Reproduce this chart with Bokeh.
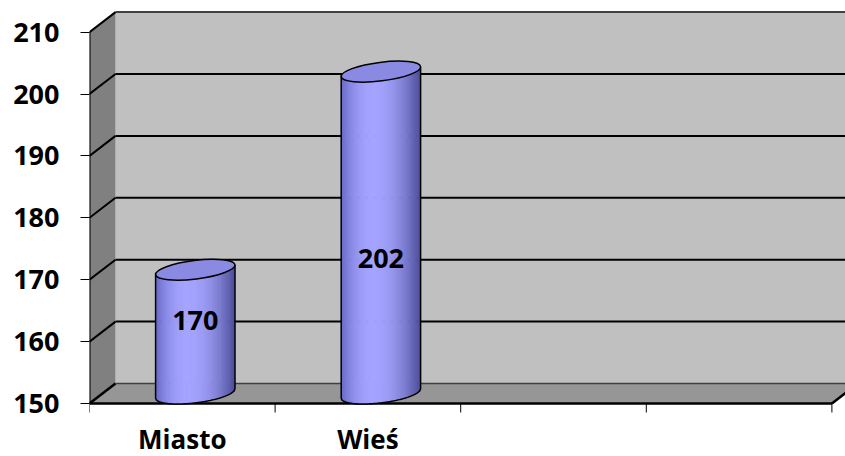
import math
import numpy as np
from bokeh.plotting import figure
from bokeh.models import Range1d, FixedTicker, LinearAxis
from bokeh.core.properties import value
from bokeh.embed import file_html
from bokeh.resources import INLINE

# ---- data -------------------------------------------------------------
categories = ["Miasto", "Wieś"]
counts = [170, 202]
slot_count = 4                      # category slots along the floor (two stay empty)
y_ticks = [150, 160, 170, 180, 190, 200, 210]
y_base, y_top = y_ticks[0], y_ticks[-1]

# ---- layout / projection constants ---------------------------------------
W, H = 845, 456
LEFT = 89                 # room for the value axis
FRAME_W = W - LEFT
PX_X = 185.6              # screen px per category slot
PX_Y = 6.19               # screen px per value unit
BASE_ROW = 403            # screen row of the base value
DEPTH_X, DEPTH_Y = 26, 20 # oblique depth offset of the back wall, px
DX, DY = DEPTH_X / PX_X, DEPTH_Y / PX_Y

FONT = value("Open Sans")

x_end = FRAME_W / PX_X
y_start = y_base - (H - BASE_ROW) / PX_Y
y_end = y_base + BASE_ROW / PX_Y

p = figure(width=W, height=H, x_range=Range1d(0, x_end), y_range=Range1d(y_start, y_end),
           output_backend="svg", toolbar_location=None,
           x_axis_location=None, y_axis_location=None,
           min_border_left=LEFT, min_border_right=0, min_border_top=0, min_border_bottom=0)
p.outline_line_color = None
p.background_fill_color = "white"
p.border_fill_color = "white"
p.xgrid.visible = False
p.ygrid.visible = False

# ---- value axis -------------------------------------------------------
yaxis = LinearAxis(ticker=FixedTicker(ticks=y_ticks))
yaxis.axis_line_color = None
yaxis.major_tick_out = 9
yaxis.major_tick_in = 0
yaxis.minor_tick_out = 0
yaxis.major_tick_line_color = "black"
yaxis.major_label_text_font = "Open Sans"
yaxis.major_label_text_font_style = "bold"
yaxis.major_label_text_font_size = "27px"
yaxis.major_label_text_color = "black"
yaxis.major_label_standoff = 21
p.add_layout(yaxis, "left")

far = x_end + 1

# ---- walls ------------------------------------------------------------
p.quad(left=DX, right=far, bottom=y_base + DY, top=y_top + DY,
       fill_color="#c0c0c0", line_color=None)
p.patch([0, 0, DX, DX], [y_base, y_top, y_top + DY, y_base + DY],
        fill_color="#808080", line_color=None)

grid_vals = [v for v in y_ticks if v != y_base]
# gridlines across the back wall and slanting over the side wall
p.segment(x0=[DX] * len(grid_vals), y0=[v + DY for v in grid_vals],
          x1=[far] * len(grid_vals), y1=[v + DY for v in grid_vals],
          line_color=["black"] * (len(grid_vals) - 1) + ["#404040"], line_width=2)
p.segment(x0=[0] * len(grid_vals), y0=grid_vals,
          x1=[DX] * len(grid_vals), y1=[v + DY for v in grid_vals],
          line_color="black", line_width=2)
p.segment(x0=[0], y0=[y_base], x1=[0], y1=[y_top], line_color="black", line_width=2)

# ---- floor ------------------------------------------------------------
p.patch([0, slot_count, slot_count + DX, DX], [y_base, y_base, y_base + DY, y_base + DY],
        fill_color="#969696", line_color=None)
p.segment(x0=[DX], y0=[y_base + DY], x1=[far], y1=[y_base + DY], line_color="#404040", line_width=1.5)
p.segment(x0=[0, 0, slot_count], y0=[y_base] * 3,
          x1=[slot_count, DX, slot_count + DX], y1=[y_base, y_base + DY, y_base + DY],
          line_color="black", line_width=2.5)

# category tick marks on the slot boundaries
bounds = list(range(slot_count + 1))
tick_len = 9 / PX_Y
p.segment(x0=bounds, y0=[y_base] * len(bounds), x1=bounds, y1=[y_base - tick_len] * len(bounds),
          line_color="black", line_width=1)

# ---- cylinders ----------------------------------------------------------
A_R, B_R, TILT = 40.0, 9.3, 0.125      # cap ellipse semi-axes (px) and tilt (rad)
co, si = math.cos(TILT), math.sin(TILT)
QA = si * si / A_R ** 2 + co * co / B_R ** 2
HALF_W = math.sqrt(A_R ** 2 * co ** 2 + B_R ** 2 * si ** 2)


def chord(X):
    """Vertical mid point and half height (px, y up) of the tilted ellipse at offset X."""
    qb = 2 * X * (co * si / A_R ** 2 - si * co / B_R ** 2)
    qc = X * X * (co * co / A_R ** 2 + si * si / B_R ** 2) - 1
    mid = -qb / (2 * QA)
    disc = max(qb * qb - 4 * QA * qc, 0.0)
    return mid, math.sqrt(disc) / (2 * QA)


def shade(t):
    """Body colour across the cylinder, t from -1 (left) to 1 (right)."""
    t0 = -0.2
    s = (t - t0) / (1 - t0) if t > t0 else (t - t0) / (1 + t0)
    f = 1 - s * s
    edge = (104, 104, 200) if s < 0 else (74, 74, 150)
    peak = (164, 164, 255)
    rgb = [round(e + f * (pk - e)) for e, pk in zip(edge, peak)]
    return "#%02x%02x%02x" % tuple(rgb)


N = 70
edges = np.linspace(-HALF_W, HALF_W, N + 1)
for i, v in enumerate(counts):
    cx = i + 0.5 + DX / 2
    yb = y_base + DY / 2
    yt = v + DY / 2
    lefts, rights, bots, tops, cols = [], [], [], [], []
    for k in range(N):
        xm = 0.5 * (edges[k] + edges[k + 1])
        mid, half = chord(xm)
        lefts.append(cx + edges[k] / PX_X)
        rights.append(cx + min(edges[k + 1] + 0.6, HALF_W) / PX_X)
        tops.append(yt + mid / PX_Y)
        bots.append(yb + (mid - half) / PX_Y)
        cols.append(shade(xm / HALF_W))
    p.quad(left=lefts, right=rights, bottom=bots, top=tops, fill_color=cols, line_color=None)

    xs_arc = np.linspace(-HALF_W, HALF_W, 90)
    ox, oy = [cx - HALF_W / PX_X], [yt + chord(-HALF_W)[0] / PX_Y]
    for X in xs_arc:
        mid, half = chord(X)
        ox.append(cx + X / PX_X)
        oy.append(yb + (mid - half) / PX_Y)
    ox.append(cx + HALF_W / PX_X)
    oy.append(yt + chord(HALF_W)[0] / PX_Y)
    p.line(ox, oy, line_color="black", line_width=1.5)

    p.ellipse(x=[cx], y=[yt], width=2 * A_R, height=2 * B_R,
              width_units="screen", height_units="screen", angle=TILT,
              fill_color="#8a8ae2", line_color="black", line_width=1.5)

# ---- value labels inside the columns ------------------------------------
label_x = [i + 0.5 + DX / 2 for i in range(len(counts))]
label_y = [y_base + 0.3125 * (v - y_base) + 7.2 for v in counts]
p.text(x=label_x, y=label_y, text=[str(v) for v in counts],
       text_font=FONT, text_font_style="bold", text_font_size="27px",
       text_align="center", text_baseline="middle", text_color="black")

# ---- category labels ------------------------------------------------------
p.text(x=[i + 0.5 for i in range(len(categories))], y=[y_base] * len(categories),
       text=categories, y_offset=35,
       text_font=FONT, text_font_style="bold", text_font_size="26px",
       text_align="center", text_baseline="middle", text_color="black")

open("out.html", "w").write(file_html(p, INLINE))
